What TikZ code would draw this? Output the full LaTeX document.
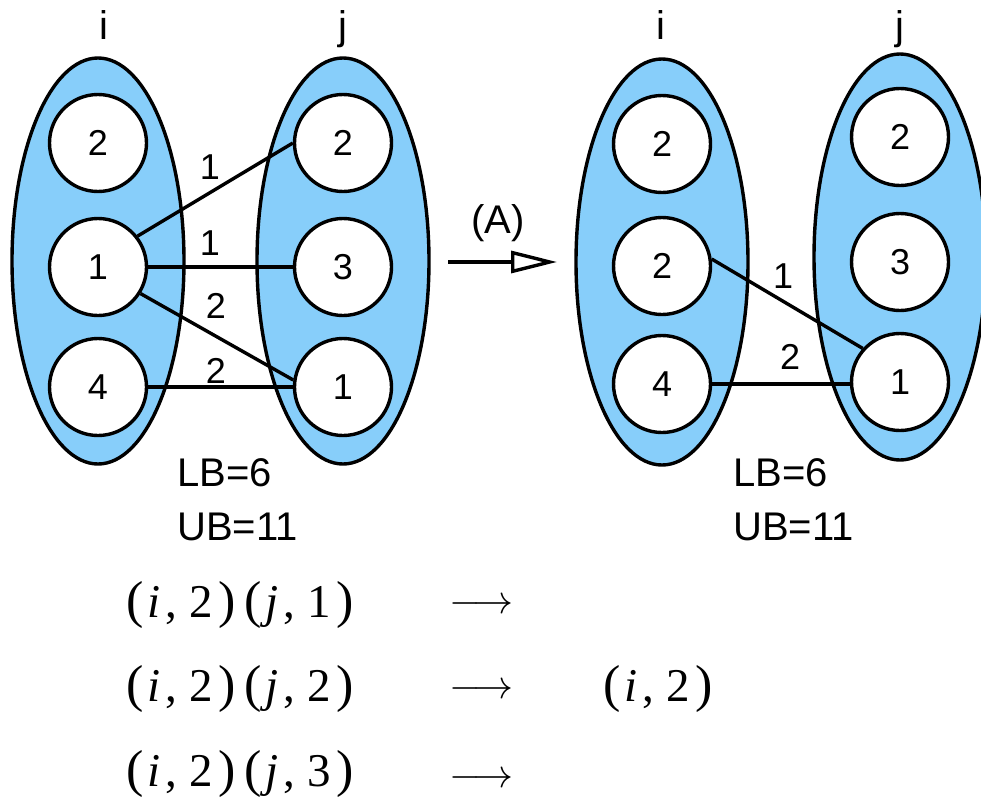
\RequirePackage{fix-cm}
\documentclass[tikz,border=0pt]{standalone}
\usepackage{fontspec}
\setmainfont{Liberation Sans}
\newfontfamily\frmfont{Liberation Serif}
\usetikzlibrary{shapes.geometric,arrows.meta}
\definecolor{skyb}{RGB}{135,206,250}
\tikzset{
 grp/.style={ellipse, draw, line width=3.4pt, fill=skyb, inner sep=0pt, minimum width=172pt, minimum height=406pt},
 val/.style={circle, draw, line width=3.4pt, fill=white, inner sep=0pt, minimum size=97pt, font=\fontsize{36}{40}\selectfont},
 lbl/.style={font=\fontsize{40}{44}\selectfont, inner sep=0pt},
 wt/.style={font=\fontsize{36}{40}\selectfont, inner sep=0pt},
 edgeline/.style={line width=3.4pt},
 mth/.style={font=\frmfont\fontsize{47}{52}\selectfont, inner sep=0pt, anchor=base west},
 arr/.style={font=\fontsize{40}{48}\selectfont, inner sep=0pt, anchor=base west},
}
\newcommand\bp[1]{{\fontsize{52}{56}\selectfont#1}}
\newcommand\pq[2]{\bp{(}\kern4pt\textit{#1}\kern5pt,\kern12pt #2\kern6pt\bp{)}}
\begin{document}
\begin{tikzpicture}[x=1pt,y=-1pt]
\useasboundingbox (0,0) rectangle (981,800);
% groups
\node[grp] (Li) at (98,261) {};
\node[grp] (Lj) at (343,261) {};
\node[grp] (Ri) at (662,262) {};
\node[grp] (Rj) at (900,257) {};
% group labels
\node[lbl, anchor=base] (tLi) at (104,40) {i};
\node[lbl, anchor=base] (tLj) at (343,40) {j};
\node[lbl, anchor=base] (tRi) at (661,40) {i};
\node[lbl, anchor=base] (tRj) at (900,40) {j};
% left values
\node[val] (li2) at (98,143) {2};
\node[val] (li1) at (98,267) {1};
\node[val] (li4) at (98,387) {4};
\node[val] (lj2) at (343,143) {2};
\node[val] (lj3) at (343,267) {3};
\node[val] (lj1) at (343,387) {1};
% right values
\node[val] (ri2a) at (662,144) {2};
\node[val] (ri2b) at (662,266) {2};
\node[val] (ri4) at (662,384) {4};
\node[val] (rj2) at (900,137) {2};
\node[val] (rj3) at (900,262) {3};
\node[val] (rj1) at (900,382) {1};
% left edges
\draw[edgeline] (li1.38) -- (lj2.west);
\draw[edgeline] (li1.east) -- (lj3.west);
\draw[edgeline] (li1.-32) -- (lj1.172);
\draw[edgeline] (li4.east) -- (lj1.west);
\node[wt] (w1) at (210,167) {1};
\node[wt] (w2) at (210,243) {1};
\node[wt] (w3) at (216,306) {2};
\node[wt] (w4) at (216,371) {2};
% right edges
\draw[edgeline] (ri2b.8) -- (rj1.138);
\draw[edgeline] (ri4.east) -- (ri4.east -| rj1.west);
\node[wt] (w5) at (783,276) {1};
\node[wt] (w6) at (790,357) {2};
% transform arrow
\coordinate (as) at (448,262);
\coordinate (ae) at (557,262);
\draw[line width=3.4pt, -{Triangle[open,length=46pt,width=22pt]}] (as) -- (ae);
\node[lbl] (tA) at (498,223) {(A)};
% bounds
\node[lbl, anchor=west] (lb1) at (177,473) {LB=6};
\node[lbl, anchor=west] (ub1) at (177,527) {UB=11};
\node[lbl, anchor=west] (lb2) at (733,473) {LB=6};
\node[lbl, anchor=west] (ub2) at (733,527) {UB=11};
% formulas
\node[mth] (m1) at (126,617) {\pq{i}{2}\kern8pt\pq{j}{1}};
\node[mth] (m2) at (126,701) {\pq{i}{2}\kern8pt\pq{j}{2}};
\node[mth] (m3) at (126,786) {\pq{i}{2}\kern8pt\pq{j}{3}};
\node[arr] (a1) at (449,613) {$\longrightarrow$};
\node[arr] (a2) at (449,698) {$\longrightarrow$};
\node[arr] (a3) at (449,787) {$\longrightarrow$};
\node[mth] (r2) at (603,701) {\pq{i}{2}};
\end{tikzpicture}
\end{document}
